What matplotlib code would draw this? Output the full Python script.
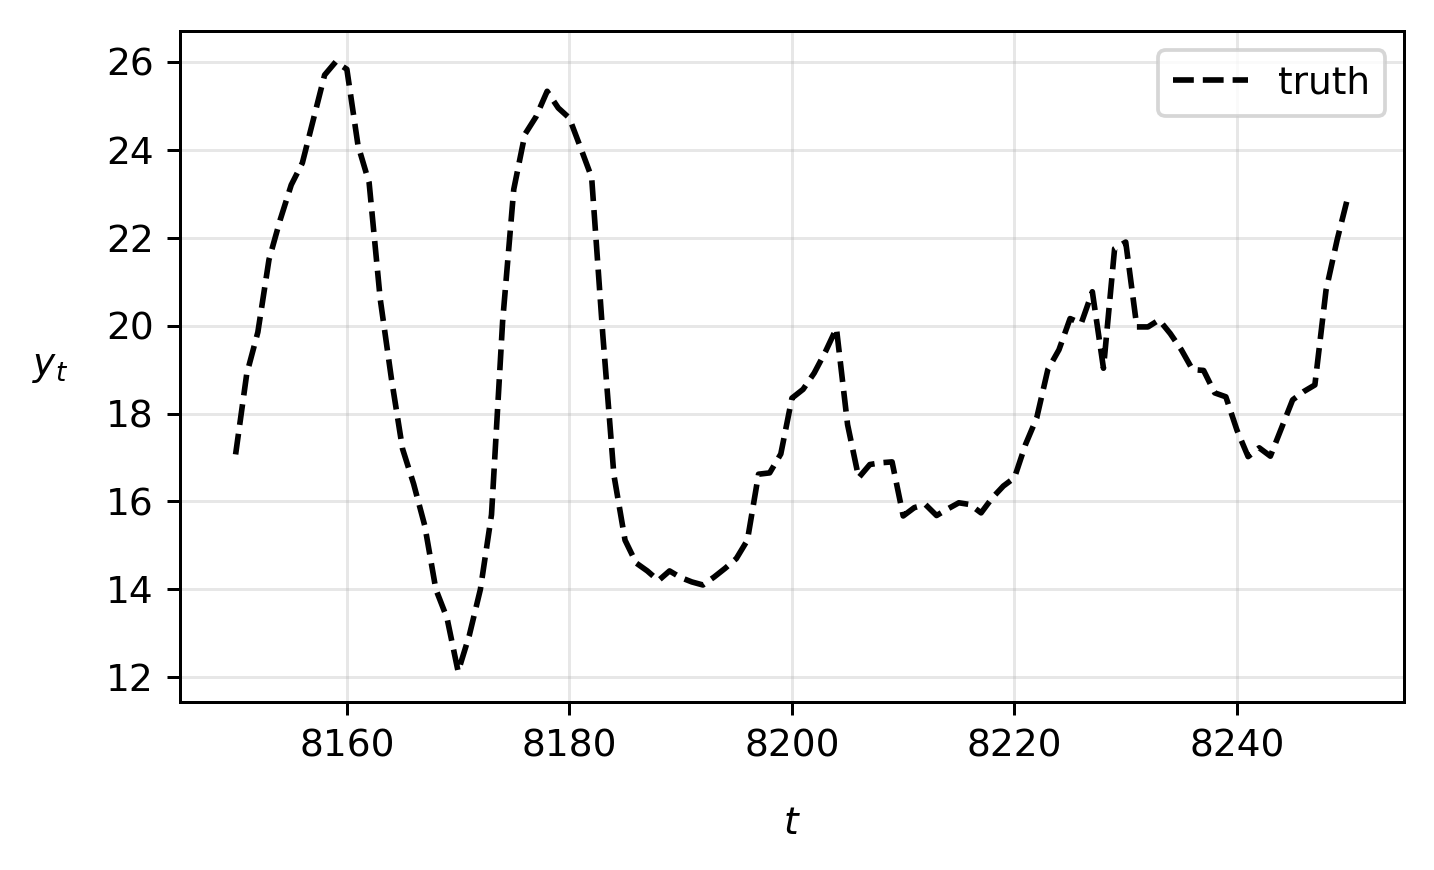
import numpy as np
import matplotlib
matplotlib.use("Agg")
import matplotlib.pyplot as plt

# time steps 8150..8250
t = np.arange(8150, 8251)

# values
y_truth = [
    17.07, 18.9, 19.85, 21.5, 22.4, 23.2, 23.7, 24.7, 25.7, 26.0,   # 8150-8159
    25.83, 24.1, 23.25, 20.6, 18.8, 17.2, 16.4, 15.45, 14.0, 13.35,  # 8160-8169
    12.13, 12.95, 14.0, 15.7, 20.1, 23.1, 24.35, 24.75, 25.33, 24.95,  # 8170-8179
    24.72, 24.05, 23.37, 19.8, 16.6, 15.12, 14.6, 14.42, 14.2, 14.42,  # 8180-8189
    14.27, 14.17, 14.1, 14.28, 14.48, 14.7, 15.12, 16.62, 16.65, 17.08,  # 8190-8199
    18.35, 18.55, 18.92, 19.4, 19.94, 17.75, 16.54, 16.84, 16.88, 16.9,  # 8200-8209
    15.67, 15.86, 15.93, 15.68, 15.83, 15.97, 15.93, 15.74, 16.08, 16.35,  # 8210-8219
    16.54, 17.3, 17.9, 19.0, 19.45, 20.16, 20.05, 20.77, 19.03, 21.75,  # 8220-8229
    21.9, 19.97, 19.97, 20.13, 19.82, 19.45, 19.0, 18.98, 18.47, 18.38,  # 8230-8239
    17.62, 17.02, 17.22, 17.03, 17.67, 18.31, 18.5, 18.65, 20.8, 21.95,  # 8240-8249
    22.96,                                                           # 8250
]

DPI = 270
fig, ax = plt.subplots(figsize=(1434 / DPI, 870 / DPI), dpi=DPI)
ax.plot(t, y_truth, color="black", linestyle="--", linewidth=1.5, label="truth")

ax.set_xticks([8160, 8180, 8200, 8220, 8240])
ax.set_yticks([12, 14, 16, 18, 20, 22, 24, 26])
ax.grid(True, alpha=0.3)
ax.set_xlabel("$t$", labelpad=11)
ax.set_ylabel("$y_t$", rotation=0, labelpad=15, va="center")
ax.legend(loc="upper right")

fig.subplots_adjust(left=0.1255, right=0.979, top=0.964, bottom=0.193)
fig.savefig("out.png", dpi=DPI)
